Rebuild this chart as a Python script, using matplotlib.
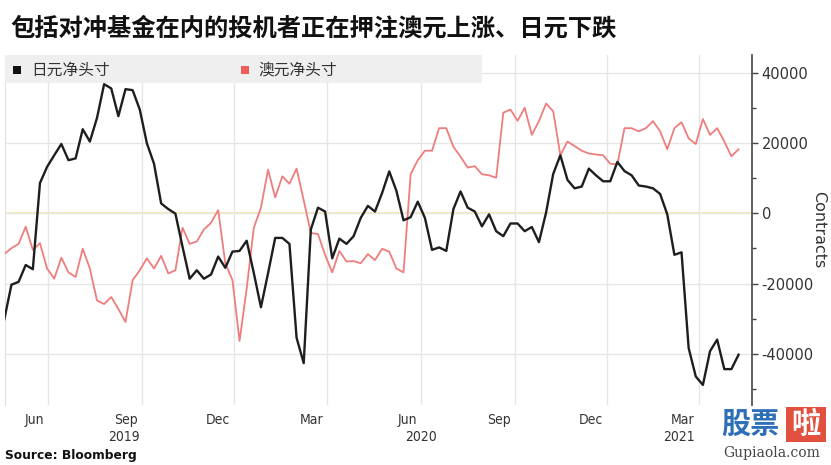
import matplotlib
matplotlib.use('Agg')
import matplotlib.pyplot as plt
import matplotlib.transforms as mtransforms
from matplotlib.patches import Rectangle
import pandas as pd

plt.rcParams['font.family'] = ['Noto Sans CJK SC', 'DejaVu Sans']
plt.rcParams['axes.unicode_minus'] = False

# ---------------- data ----------------
title = "包括对冲基金在内的投机者正在押注澳元上涨、日元下跌"
series_names = ["日元净头寸", "澳元净头寸"]
source_text = "Source: Bloomberg"
y_label = "Contracts"
start_date = "2019-04-19"

jpy_net = [-30100, -20300, -19500, -14700, -15900, 8600, 13200, 16500, 19700, 15100,
           15600, 23900, 20400, 27100, 36700, 35500, 27600, 35300, 35000, 29500,
           19900, 14100, 2800, 1200, -100, -9500, -18600, -16200, -18600, -17400,
           -12300, -15500, -10900, -10700, -7800, -17000, -26700, -17000, -7000, -7000,
           -8700, -35400, -42600, -4600, 1600, 500, -12800, -7200, -8700, -6500,
           -1300, 2100, 500, 5800, 11900, 6400, -2000, -1100, 3300, -1300,
           -10400, -9700, -10700, 1200, 6200, 1600, 500, -3700, -300, -5100,
           -6500, -2900, -2900, -5100, -3900, -8200, 200, 11200, 16500, 9500,
           7100, 7600, 12700, 10800, 9100, 9100, 14600, 12000, 10800, 7900,
           7600, 7100, 5500, -300, -11800, -11100, -38300, -46400, -48800, -39200,
           -35900, -44300, -44300, -40200]

aud_net = [-11600, -9900, -8700, -3800, -10400, -8500, -15700, -18600, -12600, -16800,
           -18100, -10100, -15700, -24800, -25800, -23800, -27200, -30900, -19000, -16200,
           -12800, -15700, -12100, -17100, -16200, -4100, -8700, -8000, -4600, -2700,
           900, -14200, -19000, -36300, -21400, -4100, 1600, 12400, 4500, 10500,
           8400, 12700, 3700, -5600, -5900, -11800, -16800, -10700, -13700, -13600,
           -14200, -11600, -13300, -10100, -10900, -15700, -16800, 11100, 15100, 17800,
           17800, 24200, 24200, 18900, 16100, 13000, 13400, 11100, 10800, 10100,
           28600, 29500, 26300, 30000, 22300, 26200, 31200, 29000, 16500, 20400,
           19100, 17800, 17000, 16700, 16500, 14100, 13900, 24200, 24200, 23300,
           24200, 26200, 23300, 18200, 24200, 25900, 21300, 19700, 26800, 22300,
           24200, 20400, 16200, 18200]

month_ticks = ["2019-06-01", "2019-09-01", "2019-12-01", "2020-03-01",
               "2020-06-01", "2020-09-01", "2020-12-01", "2021-03-01"]
month_labels = ["Jun", "Sep", "Dec", "Mar", "Jun", "Sep", "Dec", "Mar"]
year_labels = ["2019", "2020", "2021"]
year_anchor = ["2019-09-01", "2020-06-01", "2021-03-01"]
year_shift_days = [-2, 16, -4]
y_ticks = [-40000, -20000, 0, 20000, 40000]
y_minor = [-50000, -30000, -10000, 10000, 30000]

# ---------------- figure ----------------
W, H = 831, 465
fig = plt.figure(figsize=(W / 100, H / 100), dpi=100)
fig.patch.set_facecolor('white')


def fx(px):
    return px / W


def fy(py):
    return 1 - py / H


ax = fig.add_axes([fx(5), fy(405), fx(752) - fx(5), fy(55) - fy(405)])
dates = pd.date_range(start_date, periods=len(jpy_net), freq='7D')

ax.set_xlim(pd.Timestamp('2019-04-19 16:00'), pd.Timestamp('2021-04-22 05:00'))
ax.set_ylim(-54500, 45000)

# grid
ax.set_xticks(pd.to_datetime(month_ticks))
ax.set_xticklabels([])
ax.tick_params(axis='x', length=0)
ax.grid(axis='x', color='#e6e6e6', lw=1.0, zorder=0)
ax.set_yticks(y_ticks)
ax.set_yticks(y_minor, minor=True)
ax.grid(axis='y', which='major', color='#e6e6e6', lw=1.0, zorder=0)
ax.axhline(0, color='#f3e9a0', lw=1.2, zorder=1)

# lines
ax.plot(dates, aud_net, color='#ef7d7d', lw=1.3, zorder=3)
ax.plot(dates, jpy_net, color='#1e1e1e', lw=1.7, zorder=4)

# y axis on right
ax.yaxis.tick_right()
ax.tick_params(axis='y', which='both', direction='out', colors='#444444',
               labelcolor='#333333', labelsize=10.5, pad=3)
ax.tick_params(axis='y', which='major', length=4, width=1.0)
ax.tick_params(axis='y', which='minor', length=3, width=1.0)
ax.yaxis.set_major_formatter(matplotlib.ticker.FuncFormatter(lambda v, p: f"{int(v)}"))
for lab in ax.get_yticklabels():
    lab.set_family('DejaVu Sans')

for s in ['top', 'bottom']:
    ax.spines[s].set_visible(False)
ax.spines['left'].set_color('#e0e0e0')
ax.spines['right'].set_color('#555555')
ax.spines['right'].set_linewidth(1.3)

fig.text(fx(819), fy(230), y_label, rotation=270, ha='center', va='center',
         fontsize=11.5, color='#333333', family='DejaVu Sans')

# x labels
trans = mtransforms.blended_transform_factory(ax.transData, fig.transFigure)
for d, lab in zip(month_ticks, month_labels):
    ax.text(pd.Timestamp(d) - pd.Timedelta(days=4), fy(420), lab, transform=trans,
            ha='right', va='center', fontsize=10, color='#333333',
            family='DejaVu Sans', fontstretch='condensed')
for d, lab, sh in zip(year_anchor, year_labels, year_shift_days):
    ax.text(pd.Timestamp(d) + pd.Timedelta(days=sh), fy(437), lab, transform=trans,
            ha='right', va='center', fontsize=10, color='#333333',
            family='DejaVu Sans', fontstretch='condensed')

# title
fig.text(fx(10), fy(29), title, ha='left', va='center', fontsize=17.5,
         weight='bold', color='#111111')

# legend band
fig.add_artist(Rectangle((fx(5), fy(83)), fx(482) - fx(5), fy(55) - fy(83),
                         transform=fig.transFigure, facecolor='#efefef',
                         edgecolor='none', zorder=2))
fig.add_artist(Rectangle((fx(13), fy(74)), fx(8), fy(66) - fy(74),
                         transform=fig.transFigure, facecolor='#111111',
                         edgecolor='none', zorder=3))
fig.text(fx(31), fy(70), series_names[0], ha='left', va='center', fontsize=11.3,
         color='#333333', zorder=4)
fig.add_artist(Rectangle((fx(241), fy(74)), fx(8), fy(66) - fy(74),
                         transform=fig.transFigure, facecolor='#f05c5c',
                         edgecolor='none', zorder=3))
fig.text(fx(258), fy(70), series_names[1], ha='left', va='center', fontsize=11.3,
         color='#333333', zorder=4)

# source
fig.text(fx(5), fy(455), source_text, ha='left', va='center', fontsize=8.8,
         weight='bold', color='#111111', family='DejaVu Sans')

# watermark
fig.text(fx(750), fy(424), "股票", ha='center', va='center', fontsize=21,
         weight='bold', color='#2f6fb8')
fig.add_artist(Rectangle((fx(786), fy(442)), fx(40), fy(407) - fy(442),
                         transform=fig.transFigure, facecolor='#e2503f',
                         edgecolor='none', zorder=3))
fig.text(fx(806), fy(424), "啦", ha='center', va='center', fontsize=21,
         weight='bold', color='white', zorder=4)
fig.text(fx(772), fy(453), "Gupiaola.com", ha='center', va='center', fontsize=10,
         color='#444444', family='DejaVu Serif')

fig.savefig('out.png', dpi=100, facecolor='white')
